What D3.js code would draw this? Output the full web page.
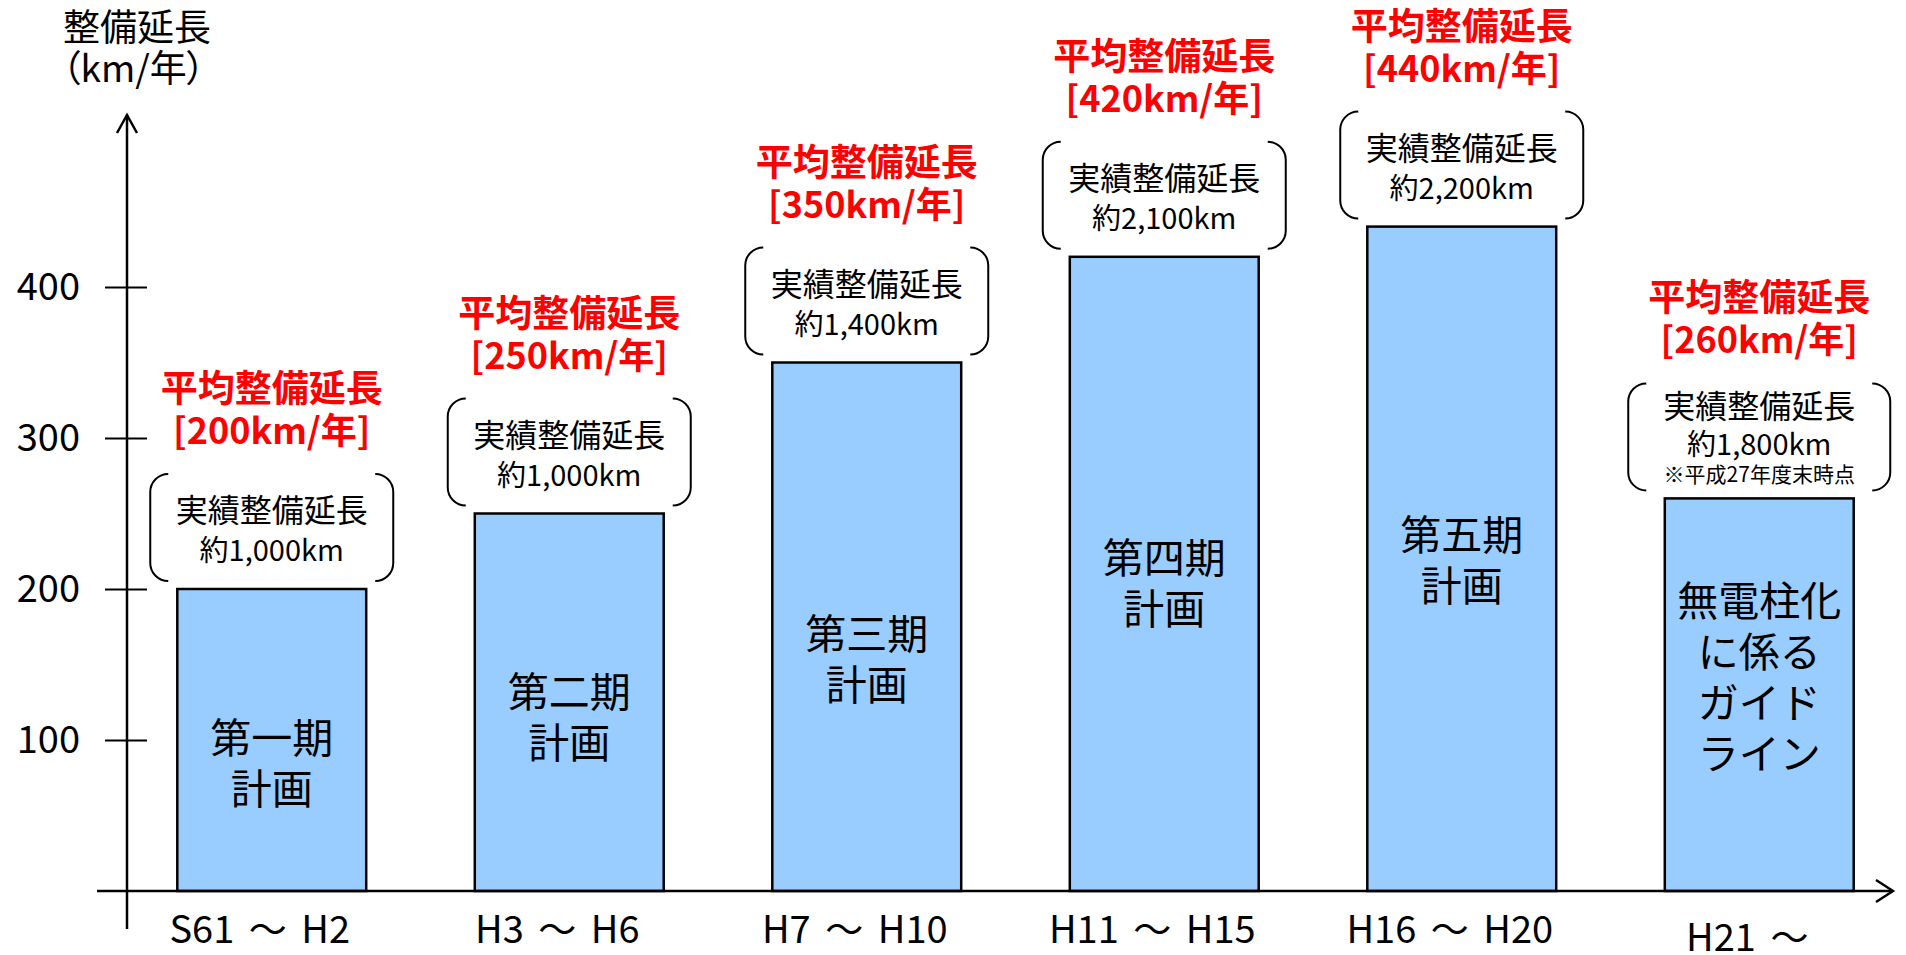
<!DOCTYPE html>
<html>
<head>
<meta charset="utf-8">
<script src="https://cdn.jsdelivr.net/npm/d3@7"></script>
<style>
  html, body { margin: 0; padding: 0; background: #fff; }
  svg { display: block; font-family: "Noto Sans CJK JP", sans-serif; }
</style>
</head>
<body>
<div id="chart-container"></div>
<script>
// Canvas size
const width = 1906, height = 955;

// Dataset
const periods = ["S61 ～ H2", "H3 ～ H6", "H7 ～ H10", "H11 ～ H15", "H16 ～ H20", "H21 ～"];
const avgLength = [200, 250, 350, 420, 440, 260];
const actualLength = ["約1,000km", "約1,000km", "約1,400km", "約2,100km", "約2,200km", "約1,800km"];
const planNames = [
    ["第一期", "計画"],
    ["第二期", "計画"],
    ["第三期", "計画"],
    ["第四期", "計画"],
    ["第五期", "計画"],
    ["無電柱化", "に係る", "ガイド", "ライン"]
];
const lastNote = "※平成27年度末時点";
const yTicks = [100, 200, 300, 400];

// Layout tweaks (pixels)
const planLabelShift = [23, 15, 33, 10, 2, -17];
const periodLabelShift = [0, 0, 0, 0, 0, 8];

function init() {
    const svg = d3.select("#chart-container")
        .append("svg")
        .attr("width", width)
        .attr("height", height);

    // Scales
    const x = d3.scaleBand()
        .domain(periods)
        .range([123, 1908])
        .paddingInner(0.365)
        .paddingOuter(0.1825);

    const y = d3.scaleLinear()
        .domain([0, 400])
        .range([891, 287]);

    const data = periods.map((p, i) => ({
        period: p, value: avgLength[i], actual: actualLength[i], plan: planNames[i], i: i
    }));
    const bw = x.bandwidth();
    const cx = d => x(d.period) + bw / 2;

    // Bars
    svg.selectAll("rect.bar")
        .data(data)
        .enter()
        .append("rect")
        .attr("class", "bar")
        .attr("x", d => x(d.period))
        .attr("y", d => y(d.value))
        .attr("width", bw)
        .attr("height", d => y(0) - y(d.value))
        .style("fill", "#99ccff")
        .style("stroke", "#000")
        .style("stroke-width", 2.5);

    // Y axis with crossing ticks
    const axisX = 127;
    const yAxis = d3.axisLeft(y)
        .tickValues(yTicks)
        .tickSizeInner(22)
        .tickSizeOuter(0)
        .tickPadding(25);

    const gy = svg.append("g")
        .attr("transform", `translate(${axisX},0)`)
        .call(yAxis);
    gy.select(".domain").remove();
    gy.selectAll(".tick line")
        .attr("x1", 20)
        .attr("x2", -22)
        .style("stroke", "#000")
        .style("stroke-width", 2);
    gy.selectAll(".tick text")
        .attr("font-family", "\"Noto Sans CJK JP\", sans-serif")
        .attr("font-size", 38)
        .style("fill", "#000");

    // Axis lines with arrows
    svg.append("line")
        .attr("x1", axisX).attr("x2", axisX)
        .attr("y1", 929).attr("y2", 115)
        .style("stroke", "#000").style("stroke-width", 2.5);
    svg.append("path")
        .attr("d", `M${axisX - 10},133 L${axisX},115 L${axisX + 10},133`)
        .style("fill", "none").style("stroke", "#000").style("stroke-width", 2.5);

    svg.append("line")
        .attr("x1", 97).attr("x2", 1893)
        .attr("y1", y(0)).attr("y2", y(0))
        .style("stroke", "#000").style("stroke-width", 2.5);
    svg.append("path")
        .attr("d", `M1876,${y(0) - 11} L1893,${y(0)} L1876,${y(0) + 11}`)
        .style("fill", "none").style("stroke", "#000").style("stroke-width", 2.5);

    // Axis title (two lines in one text)
    const title = svg.append("text")
        .style("font-size", "37px");
    title.append("tspan").attr("x", 63).attr("y", 41).text("整備延長");
    title.append("tspan").attr("x", 62).attr("y", 82)
        .style("font-feature-settings", "\"palt\"")
        .text("（km/年）");

    // Period labels
    svg.selectAll("text.period")
        .data(data)
        .enter()
        .append("text")
        .attr("class", "period")
        .attr("x", d => cx(d) - 12)
        .attr("y", d => 943 + periodLabelShift[d.i])
        .attr("text-anchor", "middle")
        .style("font-size", "38px")
        .style("word-spacing", "6px")
        .text(d => d.period);

    // Plan names inside bars
    const lineGap = 51;
    data.forEach(d => {
        const mid = (y(d.value) + y(0)) / 2 + planLabelShift[d.i];
        const n = d.plan.length;
        svg.append("text")
            .attr("text-anchor", "middle")
            .style("font-size", "41px")
            .selectAll("tspan")
            .data(d.plan)
            .enter()
            .append("tspan")
            .attr("x", cx(d))
            .attr("y", (t, k) => mid + (k - (n - 1) / 2) * lineGap + 15)
            .text(t => t);
    });

    // Bracket boxes with actual lengths
    const boxH = 107, r = 18;
    data.forEach(d => {
        const isLast = d.i === data.length - 1;
        const w = isLast ? 262 : 243;
        const top = y(d.value) - 115;
        const bot = top + boxH;
        const l = cx(d) - w / 2, rr = cx(d) + w / 2;
        svg.append("path")
            .attr("d", `M${l + r},${top} A${r},${r} 0 0 0 ${l},${top + r} L${l},${bot - r} A${r},${r} 0 0 0 ${l + r},${bot}`)
            .style("fill", "none").style("stroke", "#000").style("stroke-width", 2);
        svg.append("path")
            .attr("d", `M${rr - r},${top} A${r},${r} 0 0 1 ${rr},${top + r} L${rr},${bot - r} A${r},${r} 0 0 1 ${rr - r},${bot}`)
            .style("fill", "none").style("stroke", "#000").style("stroke-width", 2);

        const box = svg.append("text")
            .attr("text-anchor", "middle");
        box.append("tspan")
            .attr("x", cx(d))
            .attr("y", top + (isLast ? 35 : 48))
            .style("font-size", "32px")
            .text("実績整備延長");
        box.append("tspan")
            .attr("x", cx(d))
            .attr("y", top + (isLast ? 72 : 87))
            .style("font-size", "29px")
            .text(d.actual);
        if (isLast) {
            box.append("tspan")
                .attr("x", cx(d))
                .attr("y", top + 99)
                .style("font-size", "21px")
                .text(lastNote);
        }

        // Red average label
        const red = svg.append("text")
            .attr("text-anchor", "middle")
            .style("font-weight", "bold")
            .style("fill", "#ff0000");
        red.append("tspan")
            .attr("x", cx(d))
            .attr("y", top - 72)
            .style("font-size", "37px")
            .text("平均整備延長");
        red.append("tspan")
            .attr("x", cx(d))
            .attr("y", top - 30)
            .style("font-size", "36px")
            .text(`[${d.value}km/年]`);
    });
}

window.onload = init;
</script>
</body>
</html>
